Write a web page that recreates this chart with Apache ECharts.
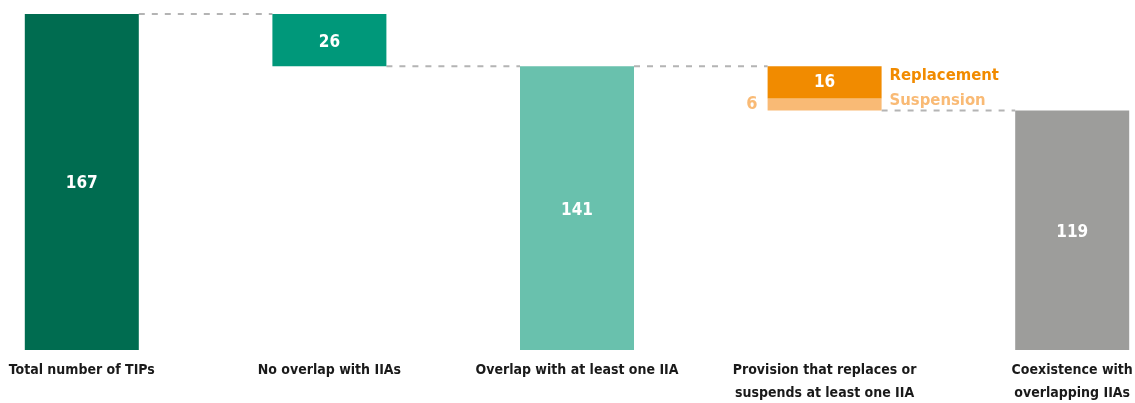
<!DOCTYPE html>
<html>
<head>
<meta charset="utf-8">
<script src="https://cdn.jsdelivr.net/npm/echarts@6/dist/echarts.min.js"></script>
<style>
  html, body { margin: 0; padding: 0; background: #fff; }
  #chart { width: 1135px; height: 403px; }
</style>
</head>
<body>
<div id="chart"></div>
<script>
var categories = ['Total number of TIPs', 'No overlap with IIAs', 'Overlap with at least one IIA',
    'Provision that replaces or\nsuspends at least one IIA', 'Coexistence with\noverlapping IIAs'];
var baseValues = [0, 141, 0, 119, 0];
var mainValues = [167, 26, 141, '-', 119];
var mainColors = ['#006c50', '#00987a', '#69c1ad', '#f18b00', '#9d9d9b'];
var suspensionValues = ['-', '-', '-', 6, '-'];
var replacementValues = ['-', '-', '-', 16, '-'];
// connectors: [from category index, level]
var connectors = [[0, 167], [1, 141], [2, 141], [3, 119]];

var font = "'DejaVu Sans Condensed', 'Liberation Sans Narrow', sans-serif";
var barW = 114;

var chart = echarts.init(document.getElementById('chart'));

var mainData = mainValues.map(function (v, i) {
    return {value: v, itemStyle: {color: mainColors[i]}};
});

function barSeries(name, stack, data, color, label) {
    return {
        name: name,
        type: 'bar',
        stack: stack,
        barWidth: barW,
        barGap: '-100%',
        itemStyle: color ? {color: color} : undefined,
        label: label,
        data: data
    };
}

chart.setOption({
    animation: false,
    grid: {left: -42, right: -61, top: 14, bottom: 53, containLabel: false, outerBoundsMode: 'none'},
    xAxis: {
        type: 'category',
        data: categories,
        axisLine: {show: false},
        axisTick: {show: false},
        axisLabel: {
            interval: 0,
            margin: 9,
            color: '#1a1a1a',
            fontFamily: font,
            fontWeight: 'bold',
            fontSize: 14,
            lineHeight: 23,
            verticalAlign: 'top'
        }
    },
    yAxis: {
        type: 'value',
        min: 0,
        max: 167,
        show: false,
        splitLine: {show: false}
    },
    series: [
        barSeries('base', 'a', baseValues, 'transparent'),
        barSeries('Suspension', 'a', suspensionValues, '#f9ba75', {
            show: true, position: 'left', distance: 10, color: '#f9ba75',
            fontFamily: font, fontWeight: 'bold', fontSize: 18
        }),
        barSeries('Replacement', 'a', replacementValues, '#f18b00', {
            show: true, position: 'inside', color: '#fff',
            fontFamily: font, fontWeight: 'bold', fontSize: 17
        }),
        barSeries('main', 'a', mainData, null, {
            show: true, position: 'inside', offset: [0, 2], color: '#fff',
            fontFamily: font, fontWeight: 'bold', fontSize: 17
        }),
        // transparent overlay carrying the side names
        barSeries('nameBase', 'b', baseValues.map(function (v, i) {
            return suspensionValues[i] === '-' ? '-' : v;
        }), 'transparent'),
        barSeries('nameSusp', 'b', suspensionValues, 'transparent', {
            show: true, position: 'right', distance: 8, offset: [0, -4],
            formatter: 'Suspension', color: '#f9ba75',
            fontFamily: font, fontWeight: 'bold', fontSize: 16.5
        }),
        barSeries('nameRepl', 'b', replacementValues, 'transparent', {
            show: true, position: 'right', distance: 8, offset: [0, -7],
            formatter: 'Replacement', color: '#f18b00',
            fontFamily: font, fontWeight: 'bold', fontSize: 16.5
        }),
        {
            name: 'connectors',
            type: 'custom',
            silent: true,
            z: 1,
            data: connectors,
            renderItem: function (params, api) {
                var i = api.value(0);
                var v = api.value(1);
                var p = api.coord([i, v]);
                var q = api.coord([i + 1, v]);
                return {
                    type: 'line',
                    shape: {x1: p[0] + barW / 2, y1: p[1], x2: q[0] - barW / 2, y2: q[1]},
                    style: {stroke: '#b4b4b4', lineWidth: 2, lineDash: [6, 7]}
                };
            }
        }
    ]
});
</script>
</body>
</html>
